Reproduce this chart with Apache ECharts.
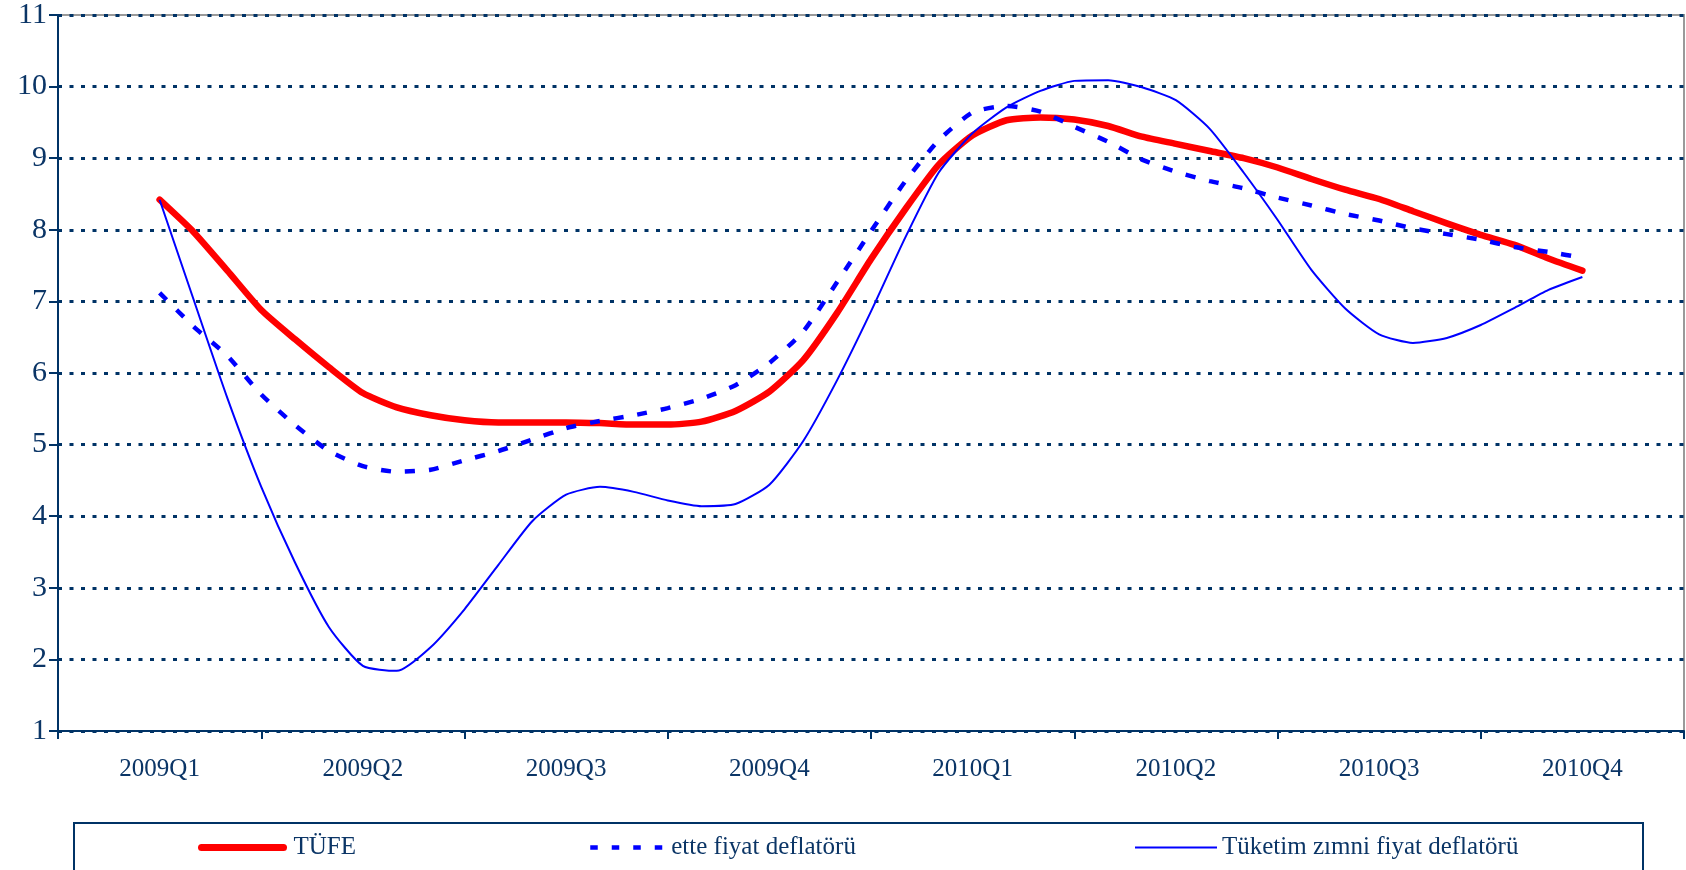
<!DOCTYPE html>
<html>
<head>
<meta charset="utf-8">
<script src="https://cdn.jsdelivr.net/npm/echarts@6/dist/echarts.min.js"></script>
<style>
  html, body { margin: 0; padding: 0; background: #fff; }
  #chart { width: 1686px; height: 870px; }
</style>
</head>
<body>
<div id="chart"></div>
<script>
// quarters on the axis
const quarters = ['2009Q1', '2009Q2', '2009Q3', '2009Q4', '2010Q1', '2010Q2', '2010Q3', '2010Q4'];

// readings every half month (1/6 of a quarter), 2009Q1 to 2010Q4
const tufe = [8.42, 7.97, 7.43, 6.88, 6.47, 6.08, 5.72, 5.52, 5.41, 5.34, 5.31, 5.31, 5.31, 5.30, 5.28,
  5.28, 5.32, 5.47, 5.74, 6.18, 6.84, 7.59, 8.28, 8.91, 9.32, 9.53, 9.57, 9.54, 9.45, 9.30,
  9.20, 9.10, 9.00, 8.87, 8.71, 8.56, 8.43, 8.26, 8.09, 7.93, 7.79, 7.60, 7.43];
const etteDeflator = [7.12, 6.65, 6.24, 5.70, 5.27, 4.91, 4.70, 4.62, 4.65, 4.78, 4.91, 5.07, 5.23, 5.33, 5.41,
  5.51, 5.64, 5.83, 6.14, 6.58, 7.27, 7.98, 8.67, 9.25, 9.64, 9.73, 9.65, 9.44, 9.23, 8.98,
  8.81, 8.68, 8.58, 8.45, 8.34, 8.22, 8.13, 8.02, 7.94, 7.86, 7.76, 7.69, 7.61];
const tuketimDeflator = [8.42, 7.03, 5.65, 4.41, 3.35, 2.45, 1.91, 1.84, 2.17, 2.70, 3.32, 3.93, 4.30, 4.41, 4.34,
  4.22, 4.14, 4.17, 4.44, 5.05, 5.90, 6.86, 7.88, 8.80, 9.35, 9.71, 9.94, 10.08, 10.09, 9.99,
  9.81, 9.41, 8.80, 8.14, 7.44, 6.90, 6.54, 6.42, 6.49, 6.67, 6.91, 7.16, 7.34];

const seriesNames = ['TÜFE', 'ette fiyat deflatörü', 'Tüketim zımni fiyat deflatörü'];

const navy = '#003366';
const textColor = '#0b3566';
const font = 'Liberation Serif';
const step = 1 / 6;

// x position (in quarters) for each reading
const toPoints = arr => arr.map((v, i) => [i * step, v]);

const chart = echarts.init(document.getElementById('chart'));

const legendText = {color: textColor, fontFamily: font, fontSize: 25};

const legendBase = {
  top: 835,
  padding: 0,
  itemHeight: 14,
  selectedMode: false,
  itemStyle: {opacity: 0},
  textStyle: legendText
};

chart.setOption({
  animation: false,
  grid: {
    left: 58,
    top: 14,
    right: 2,
    bottom: 139,
    show: true,
    borderColor: '#9a9a9a',
    borderWidth: 2
  },
  legend: [
    Object.assign({}, legendBase, {
      left: 198, itemWidth: 82, data: [seriesNames[0]],
      lineStyle: {color: '#ff0000', width: 7, type: 'solid', cap: 'round'},
      textStyle: Object.assign({}, legendText, {padding: [0, 0, 0, 5]})
    }),
    Object.assign({}, legendBase, {
      left: 588, itemWidth: 76, data: [seriesNames[1]],
      lineStyle: {color: '#0000ff', width: 4.5, type: [7.5, 14]}
    }),
    Object.assign({}, legendBase, {
      left: 1134, itemWidth: 82, data: [seriesNames[2]],
      lineStyle: {color: '#0000ff', width: 2, type: 'solid'}
    })
  ],
  graphic: [{
    type: 'rect',
    shape: {x: 74, y: 823, width: 1569, height: 80},
    style: {fill: 'none', stroke: navy, lineWidth: 2},
    silent: true
  }],
  xAxis: [
    {
      type: 'category',
      data: quarters,
      boundaryGap: true,
      axisLine: {lineStyle: {color: navy, width: 2}},
      axisTick: {show: true, interval: 0, length: 8, lineStyle: {color: navy, width: 2}},
      axisLabel: {color: textColor, fontFamily: font, fontSize: 25, margin: 26, interval: 0},
      splitLine: {show: false}
    },
    {
      type: 'value',
      min: -0.5,
      max: 7.5,
      show: false
    }
  ],
  yAxis: {
    type: 'value',
    min: 1,
    max: 11,
    interval: 1,
    axisLine: {show: true, onZero: false, lineStyle: {color: navy, width: 2}},
    axisTick: {show: true, length: 9, lineStyle: {color: navy, width: 2}},
    axisLabel: {color: textColor, fontFamily: font, fontSize: 30, margin: 11},
    splitLine: {show: true, lineStyle: {color: navy, width: 3, type: [4, 7.5]}}
  },
  series: [
    {
      name: seriesNames[0],
      type: 'line',
      xAxisIndex: 1,
      data: toPoints(tufe),
      symbol: 'none',
      smooth: 0.2,
      lineStyle: {color: '#ff0000', width: 6.5, cap: 'round', join: 'round'},
      itemStyle: {color: '#ff0000'}
    },
    {
      name: seriesNames[1],
      type: 'line',
      xAxisIndex: 1,
      data: toPoints(etteDeflator),
      symbol: 'none',
      smooth: 0.2,
      lineStyle: {color: '#0000ff', width: 4.5, type: [10, 14]},
      itemStyle: {color: '#0000ff'}
    },
    {
      name: seriesNames[2],
      type: 'line',
      xAxisIndex: 1,
      data: toPoints(tuketimDeflator),
      symbol: 'none',
      smooth: 0.2,
      lineStyle: {color: '#0000ff', width: 2},
      itemStyle: {color: '#0000ff'}
    }
  ]
});
</script>
</body>
</html>
